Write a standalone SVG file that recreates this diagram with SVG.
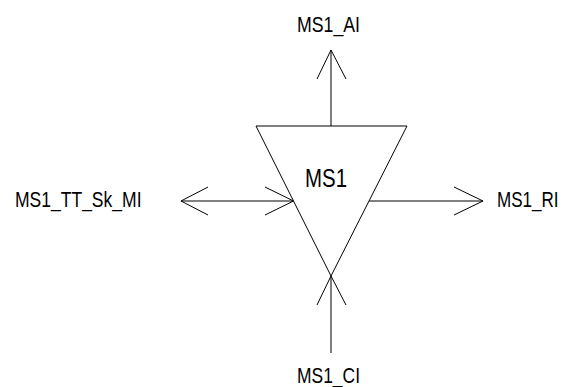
<svg xmlns="http://www.w3.org/2000/svg" width="562" height="387" viewBox="0 0 562 387">
<style>
.ln{stroke:#000;stroke-width:1;fill:none}
.tri{stroke:#000;stroke-width:1;fill:#fff}
.lbl{font-family:"Liberation Sans",Arial,sans-serif;font-size:21.3px;fill:#000}
.big{font-family:"Liberation Sans",Arial,sans-serif;font-size:25.7px;fill:#000}
</style>
<rect width="562" height="387" fill="#fff"/>
<g id="connectors">
<g id="c-ai"><line class="ln" x1="331" y1="126" x2="331" y2="50"/><polyline class="ln" points="317,79 331,50 346,79"/></g>
<g id="c-mi"><line class="ln" x1="181" y1="201" x2="293.5" y2="201"/><polyline class="ln" points="208,187 181,201 208,215"/><polyline class="ln" points="265,187 293.5,201 265,215"/></g>
<g id="c-ri"><line class="ln" x1="369" y1="201" x2="483" y2="201"/><polyline class="ln" points="454,187 483,201 454,215"/></g>
<g id="c-ci"><line class="ln" x1="331" y1="353" x2="331" y2="276"/><polyline class="ln" points="317,305 331,276 346,305"/></g>
</g>
<g id="MS1"><polygon class="tri" points="256,126 407,126 331,276"/><text class="big" x="305" y="187" textLength="42" lengthAdjust="spacingAndGlyphs">MS1</text></g>
<g id="MS1_AI"><text class="lbl" x="297" y="32" textLength="63" lengthAdjust="spacingAndGlyphs">MS1_AI</text></g>
<g id="MS1_TT_Sk_MI"><text class="lbl" x="15" y="207" textLength="126.5" lengthAdjust="spacingAndGlyphs">MS1_TT_Sk_MI</text></g>
<g id="MS1_RI"><text class="lbl" transform="translate(497,207) scale(0.8,1)">MS1_RI</text></g>
<g id="MS1_CI"><text class="lbl" x="297" y="383" textLength="63" lengthAdjust="spacingAndGlyphs">MS1_CI</text></g>
</svg>
